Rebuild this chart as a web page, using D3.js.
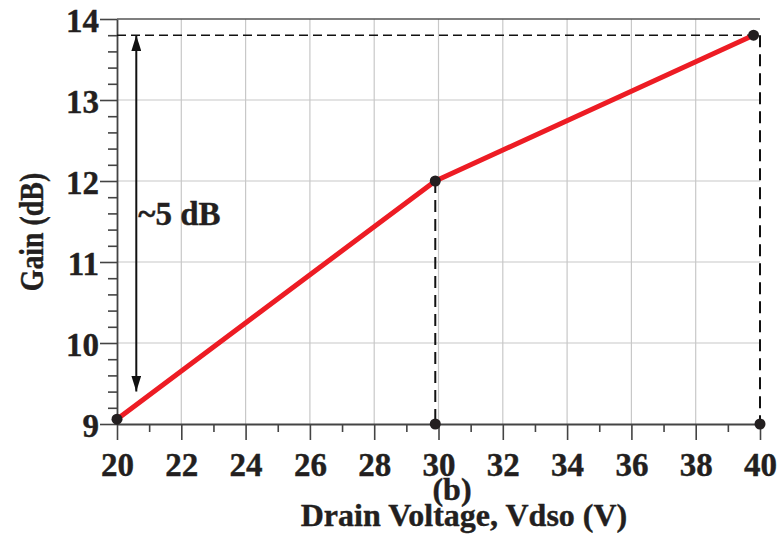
<!DOCTYPE html>
<html>
<head>
<meta charset="utf-8">
<script src="https://cdn.jsdelivr.net/npm/d3@7"></script>
<style>
  body { margin: 0; background: #fff; }
  svg text { font-family: "Liberation Serif", "Times New Roman", serif; font-weight: bold; fill: #231f20; stroke: #231f20; stroke-width: 0.4px; }
</style>
</head>
<body>
<div id="chart"></div>
<script>
// Gain vs drain voltage
var voltage = [20, 29.9, 39.8];
var gain = [9.06, 12.0, 13.8];
// markers sitting on the x axis under the dashed drop lines
var dropX = [29.9, 40];
var xTicks = [20, 22, 24, 26, 28, 30, 32, 34, 36, 38, 40];
var yTicks = [9, 10, 11, 12, 13, 14];
var arrowX = 20.6;
var arrowFrom = 13.8, arrowTo = 9.4;
var arrowLabel = "~5 dB";

var width = 784, height = 537;
var margin = {top: 19, right: 24, bottom: 113, left: 117};
var w = width - margin.left - margin.right;
var h = height - margin.top - margin.bottom;

var svg = d3.select("#chart").append("svg")
	.attr("width", width)
	.attr("height", height);
var g = svg.append("g")
	.attr("transform", "translate(" + margin.left + "," + margin.top + ")");

var x = d3.scaleLinear().domain([20, 40]).range([0, w]);
var y = d3.scaleLinear().domain([9, 14]).range([h, 0]);

// grid
g.append("g").selectAll("line")
	.data(xTicks.filter(function(d) { return d > 20 && d < 40; }))
	.enter().append("line")
	.attr("x1", function(d) { return x(d); })
	.attr("x2", function(d) { return x(d); })
	.attr("y1", 0).attr("y2", h)
	.style("stroke", "#c8c8c8").style("stroke-width", 1.2);
g.append("g").selectAll("line")
	.data(yTicks.filter(function(d) { return d > 9 && d < 14; }))
	.enter().append("line")
	.attr("x1", 0).attr("x2", w)
	.attr("y1", function(d) { return y(d); })
	.attr("y2", function(d) { return y(d); })
	.style("stroke", "#c8c8c8").style("stroke-width", 1.2);

// top border
g.append("line")
	.attr("x1", 0).attr("x2", w)
	.attr("y1", 0).attr("y2", 0)
	.style("stroke", "#555").style("stroke-width", 1.5);

// axes: major ticks with labels, minor ticks without
var xMinor = d3.range(21, 40, 2);
g.append("g")
	.attr("transform", "translate(0," + h + ")")
	.call(d3.axisBottom(x).tickValues(xMinor).tickSize(8).tickFormat(""))
	.call(function(a) { a.select(".domain").remove(); });
var xAxis = g.append("g")
	.attr("transform", "translate(0," + h + ")")
	.call(d3.axisBottom(x).tickValues(xTicks).tickSize(16).tickSizeOuter(0).tickPadding(13).tickFormat(d3.format("d")));
xAxis.selectAll("text").style("font-size", "33px").attr("dy", "0.71em");

var yMinor = d3.range(9, 14.001, 0.2).filter(function(d) { return Math.abs(d - Math.round(d)) > 0.01; });
g.append("g")
	.call(d3.axisLeft(y).tickValues(yMinor).tickSize(9).tickFormat(""))
	.call(function(a) { a.select(".domain").remove(); });
var yAxis = g.append("g")
	.call(d3.axisLeft(y).tickValues(yTicks).tickSize(17).tickSizeOuter(0).tickPadding(1).tickFormat(d3.format("d")));
yAxis.selectAll("text").style("font-size", "33px").attr("dy", "0.38em");

g.selectAll(".domain").style("stroke", "#444").style("stroke-width", 1.8);
g.selectAll(".tick line").style("stroke", "#444").style("stroke-width", 1.6);

// dashed reference lines
var last = voltage.length - 1;
g.append("line")
	.attr("x1", 0).attr("x2", x(40))
	.attr("y1", y(gain[last])).attr("y2", y(gain[last]))
	.style("stroke", "#111").style("stroke-width", 1.4)
	.style("stroke-dasharray", "9,5");
g.append("line")
	.attr("x1", x(dropX[0])).attr("x2", x(dropX[0]))
	.attr("y1", y(gain[1])).attr("y2", y(9))
	.style("stroke", "#111").style("stroke-width", 2)
	.style("stroke-dasharray", "12,7");
g.append("line")
	.attr("x1", x(dropX[1])).attr("x2", x(dropX[1]))
	.attr("y1", y(gain[last])).attr("y2", y(9))
	.style("stroke", "#111").style("stroke-width", 2)
	.style("stroke-dasharray", "12,7");

// arrow
var defs = svg.append("defs");
defs.append("marker")
	.attr("id", "head")
	.attr("viewBox", "0 0 16 10")
	.attr("refX", 16).attr("refY", 5)
	.attr("markerWidth", 16).attr("markerHeight", 10)
	.attr("markerUnits", "userSpaceOnUse")
	.attr("orient", "auto-start-reverse")
	.append("path")
	.attr("d", "M0,0 L16,5 L0,10 Z")
	.style("fill", "#111");
g.append("line")
	.attr("x1", x(arrowX)).attr("x2", x(arrowX))
	.attr("y1", y(arrowFrom)).attr("y2", y(arrowTo))
	.attr("marker-start", "url(#head)")
	.attr("marker-end", "url(#head)")
	.style("stroke", "#111").style("stroke-width", 2);
g.append("text")
	.attr("x", x(arrowX) + 2)
	.attr("y", 206)
	.style("font-size", "33px")
	.text(arrowLabel);

// the gain curve
var line = d3.line()
	.x(function(d, i) { return x(voltage[i]); })
	.y(function(d) { return y(d); });
g.append("path")
	.datum(gain)
	.attr("d", line)
	.style("fill", "none")
	.style("stroke", "#ed1c24")
	.style("stroke-width", 5)
	.style("stroke-linejoin", "round");

// markers
g.selectAll(".pt")
	.data(gain)
	.enter().append("circle")
	.attr("class", "pt")
	.attr("cx", function(d, i) { return x(voltage[i]); })
	.attr("cy", function(d) { return y(d); })
	.attr("r", 5.5)
	.style("fill", "#231f20");
g.selectAll(".drop")
	.data(dropX)
	.enter().append("circle")
	.attr("class", "drop")
	.attr("cx", function(d) { return x(d); })
	.attr("cy", y(9))
	.attr("r", 5.5)
	.style("fill", "#231f20");

// titles
svg.append("text")
	.attr("transform", "translate(43,232) rotate(-90) scale(0.82,1)")
	.attr("text-anchor", "middle")
	.style("font-size", "34px")
	.text("Gain (dB)");
svg.append("text")
	.attr("x", 452).attr("y", 500)
	.attr("text-anchor", "middle")
	.style("font-size", "32px")
	.text("(b)");
svg.append("text")
	.attr("x", 464).attr("y", 526)
	.attr("text-anchor", "middle")
	.style("font-size", "32px")
	.text("Drain Voltage, Vdso (V)");
</script>
</body>
</html>
